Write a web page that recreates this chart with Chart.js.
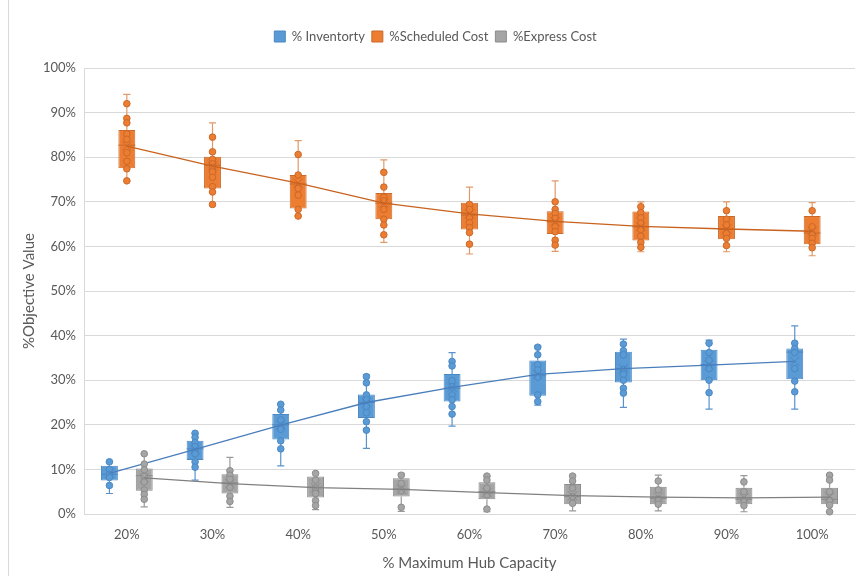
<!DOCTYPE html>
<html>
<head>
<meta charset="utf-8">
<script src="https://cdn.jsdelivr.net/npm/chart.js@4/dist/chart.umd.min.js"></script>
<style>
  html, body { margin: 0; padding: 0; background: #ffffff; }
  #wrap { width: 857px; height: 576px; }
</style>
</head>
<body>
<div id="wrap"><canvas id="c" width="857" height="576"></canvas></div>
<script>
// Hub capacity levels on the x axis
const categories = ['20%', '30%', '40%', '50%', '60%', '70%', '80%', '90%', '100%'];

// % Inventorty box statistics (percent)
const invMin  = [4.6, 7.6, 10.8, 14.7, 19.7, 24.4, 23.9, 23.5, 23.5];
const invQ1   = [7.5, 12.1, 16.7, 21.5, 25.2, 26.5, 29.5, 30.0, 30.2];
const invMed  = [8.9, 14.6, 20.0, 25.0, 28.2, 31.0, 32.6, 33.5, 36.3];
const invQ3   = [10.8, 16.4, 22.4, 26.8, 31.4, 34.4, 36.4, 36.8, 37.1];
const invMax  = [11.7, 18.1, 24.6, 31.2, 36.2, 37.7, 39.2, 39.0, 42.2];
const invMean = [9.1, 14.5, 19.9, 25.0, 28.4, 31.3, 32.6, 33.4, 34.2];
const invPts  = [
  [11.7, 10.0, 8.9, 8.2, 6.4],
  [18.1, 17.2, 16.0, 15.1, 14.0, 13.5, 11.7, 10.5],
  [24.6, 23.3, 21.1, 19.5, 19.0, 16.4, 14.6],
  [30.8, 29.4, 26.7, 25.6, 24.1, 22.7, 20.7, 18.8],
  [34.2, 33.2, 29.9, 28.5, 26.7, 25.6, 24.1, 22.4],
  [37.4, 35.7, 33.5, 32.3, 30.7, 26.7, 25.2],
  [38.1, 36.6, 35.7, 32.4, 31.3, 30.0, 28.2, 27.1],
  [38.3, 36.2, 34.5, 32.6, 30.0, 27.2],
  [38.3, 37.1, 36.2, 32.6, 29.8, 27.4]
];

// %Scheduled Cost box statistics (percent)
const schMin  = [74.7, 69.4, 66.8, 60.9, 58.3, 58.9, 58.8, 58.8, 57.9];
const schQ1   = [77.5, 73.0, 68.5, 66.1, 63.8, 62.8, 61.3, 61.6, 60.5];
const schMed  = [82.7, 78.2, 74.0, 69.7, 67.0, 65.5, 64.4, 63.8, 63.0];
const schQ3   = [86.1, 80.1, 76.0, 72.0, 69.8, 67.9, 67.8, 66.8, 66.8];
const schMax  = [94.1, 87.7, 83.7, 79.4, 73.3, 74.7, 70.0, 70.0, 69.8];
const schMean = [82.5, 78.0, 74.2, 69.7, 67.3, 65.6, 64.5, 63.9, 63.4];
const schPts  = [
  [92.0, 88.7, 87.7, 85.2, 84.0, 81.0, 79.1, 77.4, 74.7],
  [84.5, 81.2, 79.5, 78.5, 77.7, 76.7, 75.5, 73.4, 72.2, 69.4],
  [80.6, 76.0, 73.0, 71.5, 68.3, 66.8],
  [76.6, 73.3, 71.0, 70.2, 68.3, 66.1, 64.8, 62.6],
  [69.4, 68.3, 66.5, 65.3, 64.2, 63.1, 60.5],
  [70.0, 68.3, 67.4, 66.3, 64.4, 63.3, 61.4, 60.3],
  [68.9, 67.6, 66.4, 65.2, 63.8, 62.3, 60.9, 59.8],
  [68.0, 66.1, 64.8, 62.9, 61.8, 60.2],
  [68.0, 64.4, 62.8, 61.8, 60.7, 59.7]
];

// %Express Cost box statistics (percent)
const expMin  = [1.6, 1.5, 1.0, 0.6, 0.5, 0.7, 0.7, 0.5, 0.5];
const expQ1   = [5.2, 4.6, 3.7, 3.9, 3.3, 2.2, 2.2, 2.2, 2.2];
const expMed  = [8.6, 7.0, 6.0, 5.6, 5.0, 3.9, 3.5, 3.3, 3.3];
const expQ3   = [10.2, 8.9, 8.4, 8.0, 7.1, 6.7, 6.1, 5.9, 5.9];
const expMax  = [13.5, 12.7, 9.3, 9.1, 8.5, 8.7, 8.7, 8.6, 8.7];
const expMean = [8.1, 6.8, 5.9, 5.5, 4.8, 4.1, 3.8, 3.6, 3.8];
const expPts  = [
  [13.5, 11.2, 9.9, 8.4, 7.2, 5.4, 4.4, 3.3],
  [9.7, 8.7, 7.8, 6.0, 4.0, 2.8],
  [9.1, 7.6, 5.8, 4.6, 3.0, 1.9],
  [8.7, 6.9, 5.2, 1.5],
  [8.5, 7.6, 5.8, 4.3, 1.1],
  [8.5, 7.4, 5.8, 3.9, 2.4],
  [7.4, 5.4, 3.3, 2.2],
  [7.2, 5.0, 3.1, 1.9],
  [8.7, 7.6, 5.0, 3.1, 2.0, 0.5]
];

// y axis tick values
const yTicks = [0, 10, 20, 30, 40, 50, 60, 70, 80, 90, 100];

const FONT = 'Lato, "Open Sans", sans-serif';
const TEXT = '#595959';

const series = [
  { name: '% Inventorty', fill: '#5B9BD5', edge: '#4A88C4', whisker: '#5A93CC', line: '#4A7EBB',
    min: invMin, q1: invQ1, med: invMed, q3: invQ3, max: invMax, mean: invMean, pts: invPts },
  { name: '%Scheduled Cost', fill: '#ED7D31', edge: '#C9692B', whisker: '#E09A6A', line: '#C8621E',
    min: schMin, q1: schQ1, med: schMed, q3: schQ3, max: schMax, mean: schMean, pts: schPts },
  { name: '%Express Cost', fill: '#A5A5A5', edge: '#8C8C8C', whisker: '#9A9A9A', line: '#808080',
    min: expMin, q1: expQ1, med: expMed, q3: expQ3, max: expMax, mean: expMean, pts: expPts }
];

// Keep a fixed gap between the legend row and the plot area
const legendGap = {
  id: 'legendGap',
  afterInit(chart) {
    const legend = chart.legend;
    if (!legend) return;
    const fit = legend.fit;
    legend.fit = function () {
      fit.call(this);
      this.height = 45;
    };
  }
};

// Thin frame line along the left edge of the chart area
const frameLine = {
  id: 'frameLine',
  beforeDraw(chart) {
    const ctx = chart.ctx;
    ctx.save();
    ctx.strokeStyle = '#D9D9D9';
    ctx.lineWidth = 1;
    ctx.beginPath();
    ctx.moveTo(8.5, 0);
    ctx.lineTo(8.5, chart.height);
    ctx.stroke();
    ctx.restore();
  }
};

// Whiskers, medians, data points, mean markers and mean lines on top of the boxes
const boxDetails = {
  id: 'boxDetails',
  afterDatasetsDraw(chart) {
    const ctx = chart.ctx;
    const ys = chart.scales.y;
    ctx.save();
    series.forEach((s, i) => {
      const meta = chart.getDatasetMeta(i);
      meta.data.forEach((bar, j) => {
        const x = bar.x;
        const hw = bar.width / 2;
        const cap = hw * 0.42;
        // whiskers
        ctx.strokeStyle = s.whisker;
        ctx.lineWidth = 1.2;
        ctx.beginPath();
        ctx.moveTo(x, ys.getPixelForValue(s.max[j]));
        ctx.lineTo(x, ys.getPixelForValue(s.q3[j]));
        ctx.moveTo(x, ys.getPixelForValue(s.q1[j]));
        ctx.lineTo(x, ys.getPixelForValue(s.min[j]));
        ctx.moveTo(x - cap, ys.getPixelForValue(s.max[j]));
        ctx.lineTo(x + cap, ys.getPixelForValue(s.max[j]));
        ctx.moveTo(x - cap, ys.getPixelForValue(s.min[j]));
        ctx.lineTo(x + cap, ys.getPixelForValue(s.min[j]));
        ctx.stroke();
        // median
        ctx.strokeStyle = s.edge;
        ctx.lineWidth = 1;
        ctx.beginPath();
        const my = ys.getPixelForValue(s.med[j]);
        ctx.moveTo(x - hw, my);
        ctx.lineTo(x + hw, my);
        ctx.stroke();
        // data points
        s.pts[j].forEach(v => {
          ctx.beginPath();
          ctx.arc(x, ys.getPixelForValue(v), 3.3, 0, Math.PI * 2);
          ctx.fillStyle = s.fill;
          ctx.fill();
          ctx.strokeStyle = s.edge;
          ctx.lineWidth = 1;
          ctx.stroke();
        });
        // mean marker (x)
        const mY = ys.getPixelForValue(s.mean[j]);
        const r = 4.5;
        ctx.strokeStyle = s.edge;
        ctx.lineWidth = 1;
        ctx.beginPath();
        ctx.moveTo(x - r, mY - r); ctx.lineTo(x + r, mY + r);
        ctx.moveTo(x - r, mY + r); ctx.lineTo(x + r, mY - r);
        ctx.stroke();
      });
      // mean line
      ctx.strokeStyle = s.line;
      ctx.lineWidth = 1.3;
      ctx.beginPath();
      meta.data.forEach((bar, j) => {
        const py = ys.getPixelForValue(s.mean[j]);
        if (j === 0) ctx.moveTo(bar.x, py); else ctx.lineTo(bar.x, py);
      });
      ctx.stroke();
    });
    ctx.restore();
  }
};

const datasets = series.map(s => ({
  label: s.name,
  data: s.q1.map((lo, j) => [lo, s.q3[j]]),
  backgroundColor: s.fill,
  borderColor: s.edge,
  borderWidth: 1,
  borderSkipped: false,
  categoryPercentage: 0.61,
  barPercentage: 0.97
}));

new Chart(document.getElementById('c'), {
  type: 'bar',
  data: { labels: categories, datasets },
  plugins: [legendGap, frameLine, boxDetails],
  options: {
    responsive: false,
    animation: false,
    layout: { padding: { left: 16, right: 2, top: 23, bottom: 0 } },
    plugins: {
      tooltip: { enabled: false },
      legend: {
        position: 'top',
        labels: {
          color: TEXT,
          font: { family: FONT, size: 13 },
          boxWidth: 11,
          boxHeight: 11,
          padding: 7
        }
      }
    },
    scales: {
      x: {
        grid: { display: false, drawTicks: false },
        border: { display: true, color: '#D9D9D9' },
        ticks: { color: TEXT, font: { family: FONT, size: 13 }, padding: 13 },
        title: { display: true, text: '% Maximum Hub Capacity', color: TEXT, font: { family: FONT, size: 15 }, padding: { top: 4, bottom: 4 } },
        afterFit(scale) { scale.height = 62; }
      },
      y: {
        min: 0,
        max: 100,
        afterBuildTicks(scale) { scale.ticks = yTicks.map(v => ({ value: v })); },
        grid: { color: '#D9D9D9', drawTicks: false },
        border: { display: true, color: '#D9D9D9' },
        ticks: { color: TEXT, font: { family: FONT, size: 13 }, padding: 8, callback: v => v + '%' },
        title: { display: true, text: '%Objective Value', color: TEXT, font: { family: FONT, size: 15 }, padding: { top: 4, bottom: 4 } },
        afterFit(scale) { scale.width = 68; }
      }
    }
  }
});
</script>
</body>
</html>
